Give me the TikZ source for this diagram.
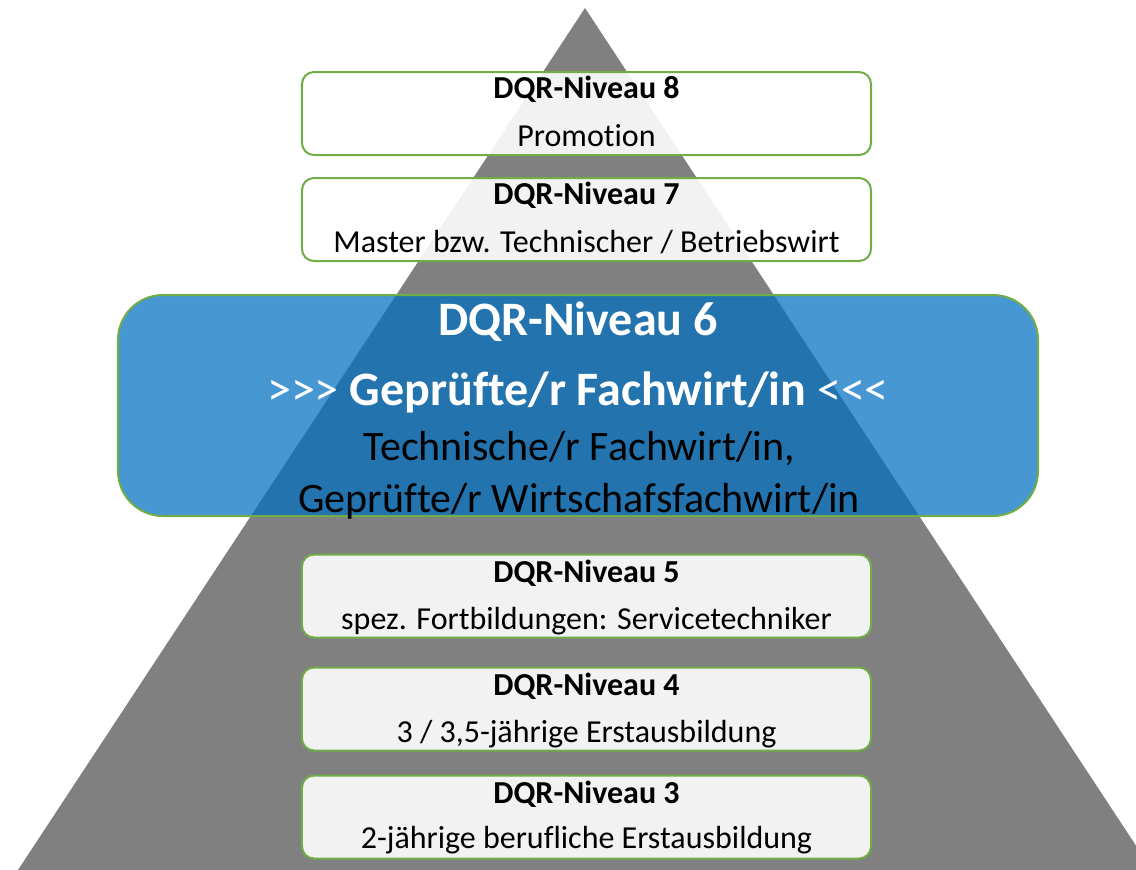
\documentclass[tikz,border=0pt]{standalone}
\usepackage{fontspec}
\setmainfont{Carlito}[Ligatures={TeXOff,CommonOff}]
\usetikzlibrary{positioning, calc}
\definecolor{pyrgray}{RGB}{128,128,128}
\definecolor{boxgreen}{RGB}{112,173,71}
\definecolor{focusblue}{RGB}{0,112,192}
\tikzstyle{levelbox} = [rectangle, rounded corners=12bp, minimum width=569bp, minimum height=83bp,
                        draw=boxgreen, line width=2bp, fill=white, fill opacity=0.9, inner sep=0pt, outer sep=0pt]
\tikzstyle{focusbox} = [rectangle, rounded corners=45bp, minimum width=920bp, minimum height=221bp,
                        draw=boxgreen, line width=2bp, fill=focusblue, fill opacity=0.72, inner sep=0pt, outer sep=0pt]
\tikzstyle{leveltitle} = [anchor=base, inner sep=0pt, font=\fontsize{32bp}{38bp}\selectfont\bfseries]
\tikzstyle{levelentry} = [anchor=base, inner sep=0pt, font=\fontsize{32bp}{38bp}\selectfont]
\tikzstyle{focustitle} = [anchor=base, inner sep=0pt, text=white, font=\fontsize{48bp}{56bp}\selectfont\bfseries]
\tikzstyle{focusentry} = [anchor=base, inner sep=0pt, font=\fontsize{42bp}{50bp}\selectfont]

\begin{document}
\begin{tikzpicture}[x=1bp, y=-1bp]
    \useasboundingbox (0,0) rectangle (1136,870);
    % Pyramid
    \begin{scope}
        \clip (0,0) rectangle (1136,870);
        \fill[pyrgray] (585,8) -- (18,870) -- (1152,870) -- cycle;
    \end{scope}

    % Upper levels
    \node[levelbox] (niv8) at (586.5,113.5) {};
    \node[levelbox, below=23bp of niv8] (niv7) {};

    % Level 6 (highlighted)
    \node[focusbox] (niv6) at (578,405.5) {};

    % Lower levels
    \node[levelbox] (niv5) at (586.5,596) {};
    \node[levelbox, below=30bp of niv5] (niv4) {};
    \node[levelbox, below=25bp of niv4] (niv3) {};

    % Labels
    \node[leveltitle] (t8) at ($(niv8.north)+(0,26)$) {DQR-Niveau 8};
    \node[levelentry] (e8) at ($(niv8.north)+(0,74)$) {Promotion};
    \node[leveltitle] (t7) at ($(niv7.north)+(0,26)$) {DQR-Niveau 7};
    \node[levelentry] (e7) at ($(niv7.north)+(0,74)$) {Master bzw. Technischer / Betriebswirt};

    \node[focustitle] (t6) at (578,335) {DQR-Niveau 6};
    \node[focustitle] (h6) at (578,405) {{\mdseries >>> }Geprüfte/r Fachwirt/in{\mdseries{} <<<}};
    \node[focusentry] (e6a) at (579,460) {Technische/r Fachwirt/in,};
    \node[focusentry] (e6b) at (579,512) {Geprüfte/r Wirtschafsfachwirt/in};

    \node[leveltitle] (t5) at ($(niv5.north)+(0,28)$) {DQR-Niveau 5};
    \node[levelentry] (e5) at ($(niv5.north)+(0,75)$) {spez. Fortbildungen: Servicetechniker};
    \node[leveltitle] (t4) at ($(niv4.north)+(0,28)$) {DQR-Niveau 4};
    \node[levelentry] (e4) at ($(niv4.north)+(0,75)$) {3 / 3,5-jährige Erstausbildung};
    \node[leveltitle] (t3) at ($(niv3.north)+(0,28)$) {DQR-Niveau 3};
    \node[levelentry] (e3) at ($(niv3.north)+(0,73)$) {2-jährige berufliche Erstausbildung};
\end{tikzpicture}
\end{document}
